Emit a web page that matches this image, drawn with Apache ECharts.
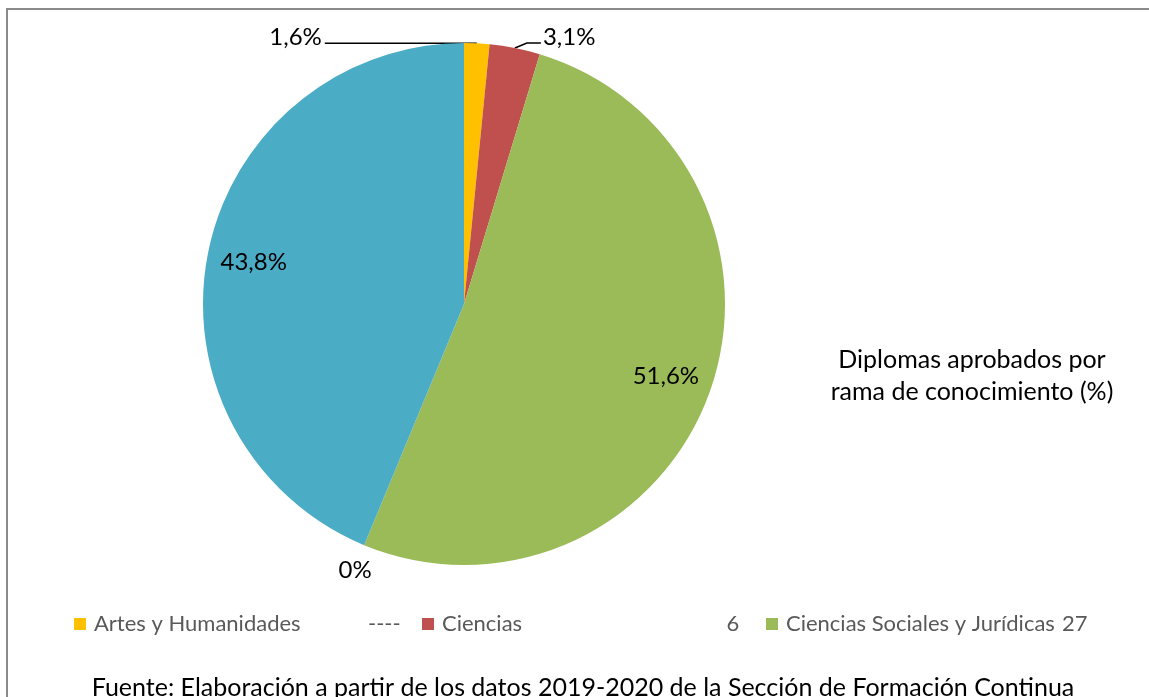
<!DOCTYPE html>
<html>
<head>
<meta charset="utf-8">
<script src="https://cdn.jsdelivr.net/npm/echarts@6/dist/echarts.min.js"></script>
<style>
html,body{margin:0;padding:0;background:#fff;}
#c{width:1149px;height:697px;}
</style>
</head>
<body>
<div id="c"></div>
<script>
const categories = ['Artes y Humanidades', 'Ciencias', 'Ciencias Sociales y Jurídicas', 'Ingeniería y Arquitectura', 'Ciencias de la Salud'];
const values = [1, 2, 33, 0, 28];
const colors = ['#FFC000', '#C0504D', '#9BBB59', '#8064A2', '#4BACC6'];
const legendExtras = ['----', '6', '27'];
const titleText = 'Diplomas aprobados por\nrama de conocimiento (%)';
const sourceText = 'Fuente: Elaboración a partir de los datos 2019-2020 de la Sección de Formación Continua';

const FONT = 'Lato, "Liberation Sans", sans-serif';
const total = values.reduce((a, b) => a + b, 0);
const fmt = p => p.value === 0 ? '0%' : (p.value / total * 100).toFixed(1).replace('.', ',') + '%';

const chart = echarts.init(document.getElementById('c'));
const R = 261;
const center = [464, 304];

const mainData = categories.map((n, i) => {
  const item = { name: n, value: values[i], itemStyle: { color: colors[i] } };
  if (i === 2 || i === 4) item.label = { show: false };
  if (i === 3) item.labelLine = { lineStyle: { opacity: 0 } };
  return item;
});
const overlayData = categories.map((n, i) => ({
  name: n, value: values[i],
  label: { show: i === 2 || i === 4 }
}));

const legendPos = [74, 422, 766];
const legends = categories.slice(0, 3).map((n, i) => ({
  data: [n], left: legendPos[i], top: 613, orient: 'horizontal', padding: 0,
  icon: 'rect', itemWidth: 12, itemHeight: 12, itemGap: 10,
  selectedMode: false,
  textStyle: { color: '#595959', fontSize: 22, fontFamily: FONT, padding: [0, 0, 0, 3] }
}));

const extraPos = [[368, 624], [733, 624], [1062, 624]];
const graphics = [
  { type: 'rect', shape: { x: 7, y: 9, width: 1300, height: 900 }, style: { fill: 'none', stroke: '#8a8a8a', lineWidth: 2 }, silent: true },
  { type: 'text', style: { text: titleText, x: 972, y: 376, textAlign: 'center', textVerticalAlign: 'middle', font: '25px ' + FONT, lineHeight: 32, fill: '#000' } },
  { type: 'text', style: { text: sourceText, x: 583, y: 688, textAlign: 'center', textVerticalAlign: 'middle', font: '25px ' + FONT, fill: '#000' } }
].concat(legendExtras.map((t, i) => ({
  type: 'text', style: { text: t, x: extraPos[i][0], y: extraPos[i][1], textAlign: i === 1 ? 'center' : 'left', textVerticalAlign: 'middle', font: '22px ' + FONT, fill: '#595959' }
})));

chart.setOption({
  animation: false,
  backgroundColor: '#fff',
  legend: legends,
  graphic: graphics,
  series: [
    {
      type: 'pie', center: center, radius: R, startAngle: 90, clockwise: true,
      avoidLabelOverlap: false, silent: true,
      itemStyle: { borderWidth: 0 },
      label: { show: true, position: 'outside', formatter: fmt, color: '#000', fontSize: 24, fontFamily: FONT },
      labelLine: { show: true, length: 8, length2: 14, lineStyle: { color: '#000', width: 1.5 } },
      labelLayout: function (p) {
        const pts = p.labelLinePoints;
        if (!pts) return {};
        const a = pts[0];
        if (p.dataIndex === 0) {
          return { x: a[0] - 155, y: a[1] - 6, align: 'right', verticalAlign: 'middle',
            labelLinePoints: [[a[0], a[1]], [a[0] - 152, a[1]], [a[0] - 152, a[1]]] };
        }
        if (p.dataIndex === 1) {
          return { x: a[0] + 28, y: a[1] - 11, align: 'left', verticalAlign: 'middle',
            labelLinePoints: [[a[0], a[1]], [a[0] + 12, a[1] - 5], [a[0] + 26, a[1] - 5]] };
        }
        if (p.dataIndex === 3) {
          return { x: a[0] - 9, y: a[1] + 25, align: 'center', verticalAlign: 'middle' };
        }
        return {};
      },
      data: mainData
    },
    {
      type: 'pie', center: center, radius: [R * 0.62, R], startAngle: 90, clockwise: true,
      silent: true, avoidLabelOverlap: false,
      itemStyle: { color: 'rgba(0,0,0,0)', borderWidth: 0 },
      emphasis: { disabled: true },
      label: { position: 'inside', formatter: fmt, color: '#000', fontSize: 24, fontFamily: FONT },
      labelLine: { show: false },
      data: overlayData
    }
  ]
});
</script>
</body>
</html>
